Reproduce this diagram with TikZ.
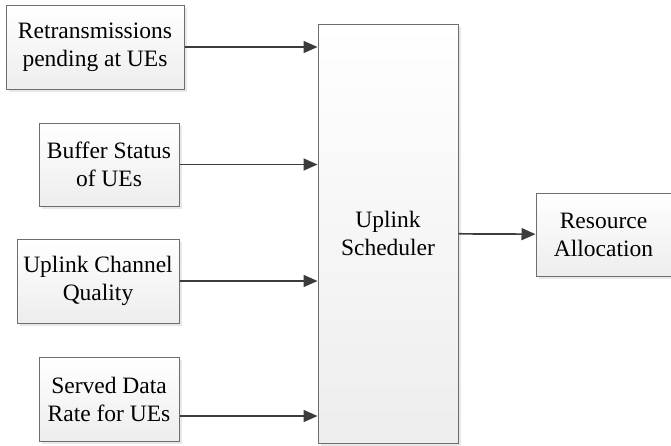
\documentclass[tikz,border=0pt]{standalone}
\usepackage{fontspec}
\setmainfont{Liberation Serif}
\usepackage{xcolor}
\usepackage{tikz}
\usetikzlibrary{arrows.meta,calc,positioning,shadows}
\definecolor{boxline}{HTML}{6E6E6E}
\definecolor{arrowgray}{HTML}{3C3C3C}

\begin{document}
\begin{tikzpicture}[x=1pt,y=-1pt,
  blk/.style={draw=boxline,line width=1pt,align=center,inner sep=0pt,
              font=\fontsize{23.5}{28}\selectfont,
              top color=white,bottom color=black!7,
              drop shadow={opacity=0.18,shadow xshift=2.5pt,shadow yshift=-2.5pt},
              minimum width=#1},
  blk/.default=140pt,
  arr/.style={-{Triangle[length=14pt,width=12pt]},line width=1.7pt,draw=arrowgray,fill=arrowgray}]
  \useasboundingbox (0,0) rectangle (671,445);
  \node[blk=178pt,minimum height=84pt] (retx) at (95,47) {Retransmissions\\pending at UEs};
  \node[blk,minimum height=83pt] (buf) at (109,164.5) {Buffer Status\\of UEs};
  \node[blk=162pt,minimum height=84pt] (chq) at (98,281) {Uplink Channel\\Quality};
  \node[blk,minimum height=84pt] (rate) at (109,399) {Served Data\\Rate for UEs};
  \node[blk,minimum height=419pt] (sched) at (388,233.5) {Uplink\\Scheduler};
  \node[blk=135pt,minimum height=83pt] (res) at (603.5,234.5) {Resource\\Allocation};
  \foreach \s in {retx,buf,chq} \draw[arr] (\s.east) -- (\s.east -| sched.west);
  \draw[arr] ([yshift=-17pt]rate.east) -- ([yshift=-17pt]rate.east -| sched.west);
  \draw[arr] (sched) -- (res);
\end{tikzpicture}
\end{document}
